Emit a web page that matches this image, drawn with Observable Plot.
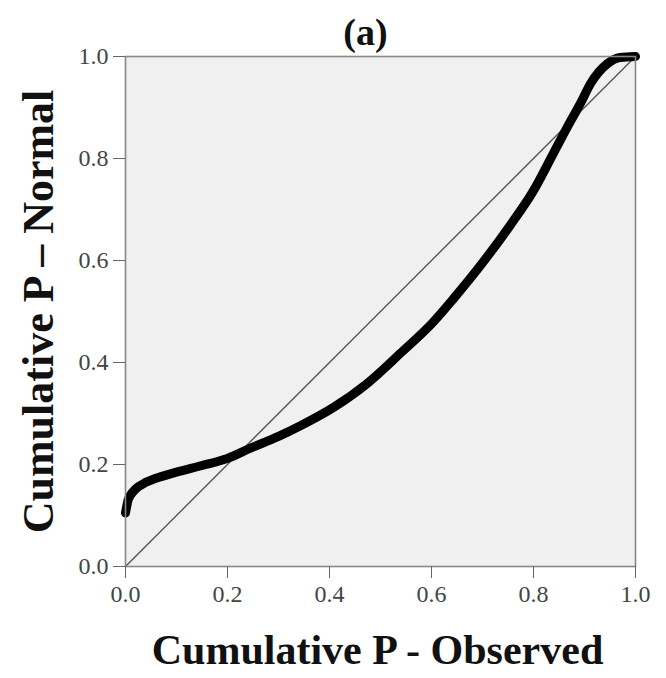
<!DOCTYPE html>
<html>
<head>
<meta charset="utf-8">
<script src="https://cdn.jsdelivr.net/npm/d3@7"></script>
<script src="https://cdn.jsdelivr.net/npm/@observablehq/plot@0.6"></script>
<style>
  html, body { margin: 0; padding: 0; background: #fff; }
  #chart svg { display: block; }
</style>
</head>
<body>
<div id="chart"></div>
<script>
const title = "(a)";
const xLabel = "Cumulative P - Observed";
const yLabel = "Cumulative P \u2013 Normal";
const tickValues = [0, 0.2, 0.4, 0.6, 0.8, 1.0];

const observed = [0, 0.005, 0.01, 0.02, 0.04, 0.06, 0.1, 0.15, 0.2, 0.245, 0.3, 0.343, 0.408, 0.474, 0.539, 0.604, 0.643, 0.702, 0.755, 0.80, 0.839, 0.866, 0.892, 0.912, 0.945, 0.97, 1.0];
const normal   = [0.105, 0.13, 0.14, 0.152, 0.165, 0.173, 0.185, 0.198, 0.212, 0.232, 0.255, 0.276, 0.312, 0.359, 0.418, 0.48, 0.525, 0.598, 0.67, 0.737, 0.81, 0.861, 0.908, 0.947, 0.986, 0.998, 1.0];

const diagX = [0, 1];
const diagY = [0, 1];

const curve = observed.map((x, i) => ({x, y: normal[i]}));
const diag = diagX.map((x, i) => ({x, y: diagY[i]}));

const serif = "'Liberation Serif', 'Times New Roman', serif";

const chart = Plot.plot({
  width: 666,
  height: 678,
  marginLeft: 125,
  marginRight: 31,
  marginTop: 56,
  marginBottom: 112,
  style: {fontFamily: serif, background: "#fff"},
  x: {domain: [0, 1], ticks: tickValues, tickFormat: d3.format(".1f"), label: null},
  y: {domain: [0, 1], ticks: tickValues, tickFormat: d3.format(".1f"), label: null},
  marks: [
    Plot.frame({fill: "#f0f0f0", stroke: "none"}),
    Plot.line(diag, {x: "x", y: "y", stroke: "#555", strokeWidth: 1.4}),
    Plot.line(curve, {x: "x", y: "y", stroke: "#000", strokeWidth: 9, curve: "monotone-x", strokeLinecap: "round", strokeLinejoin: "round"}),
    Plot.frame({stroke: "#888", strokeWidth: 1.6}),
    Plot.axisX({ticks: tickValues, tickFormat: d3.format(".1f"), tickSize: 12, tickPadding: 6, fontSize: 24, color: "#444", stroke: "#666", label: null}),
    Plot.axisY({ticks: tickValues, tickFormat: d3.format(".1f"), tickSize: 12, tickPadding: 5, fontSize: 24, color: "#444", stroke: "#666", label: null}),
    Plot.text([title], {frameAnchor: "top", dx: -15, dy: -24, text: d => d, fontSize: 38, fontWeight: "bold", fill: "#111", textAnchor: "middle", lineAnchor: "middle"}),
    Plot.text([xLabel], {frameAnchor: "bottom", dx: -3, dy: 84, text: d => d, fontSize: 42, fontWeight: "bold", fill: "#111", textAnchor: "middle", lineAnchor: "middle"}),
    Plot.text([yLabel], {frameAnchor: "left", dx: -87, dy: 0, rotate: -90, text: d => d, fontSize: 44, fontWeight: "bold", fill: "#111", textAnchor: "middle", lineAnchor: "middle"})
  ]
});
document.getElementById("chart").appendChild(chart);
</script>
</body>
</html>
